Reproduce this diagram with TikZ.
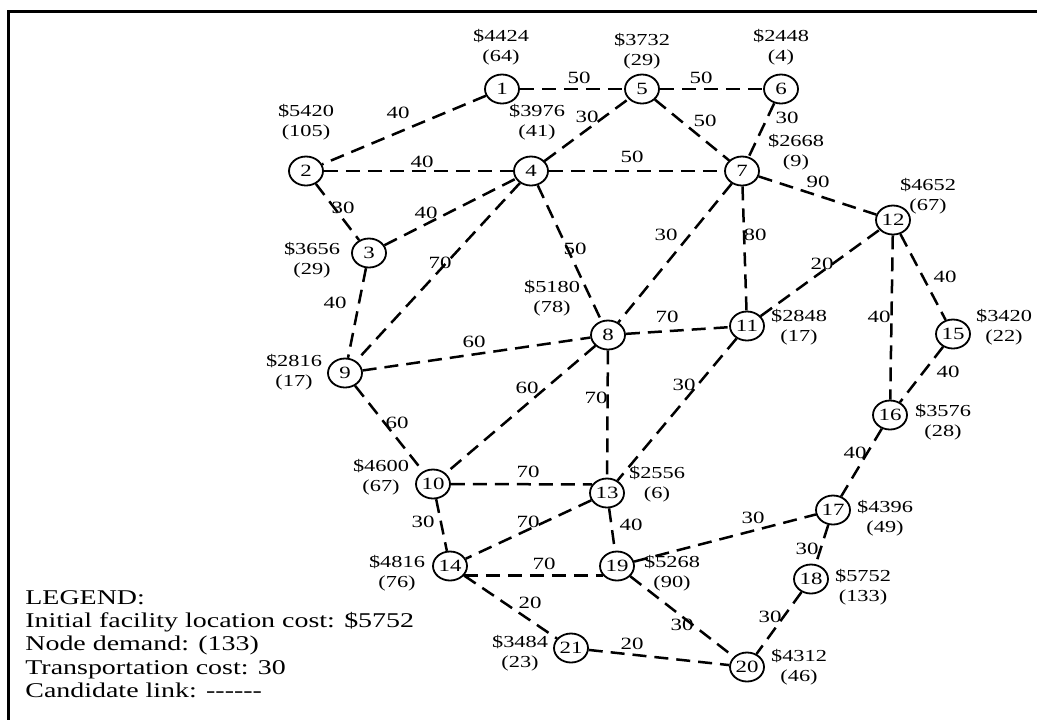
\documentclass[tikz,border=0pt]{standalone}
\usepackage{fontspec}
\setmainfont{Liberation Serif}[FakeStretch=1.33]
\usetikzlibrary{shapes.geometric}
\begin{document}
\begin{tikzpicture}[x=0.5pt,y=-0.5pt,
  vtx/.style={ellipse,draw,line width=0.9pt,minimum width=17pt,minimum height=14.5pt,inner sep=0pt,font=\fontsize{8.6}{9}\selectfont},
  info/.style={align=center,font=\fontsize{8.4}{10}\selectfont,inner sep=0pt},
  wt/.style={font=\fontsize{8.6}{10}\selectfont,inner sep=0pt},
  link/.style={line width=1.25pt,dash pattern=on 7pt off 4pt},
  frame/.style={line width=1.5pt}]
\useasboundingbox (0,0) rectangle (1037,720);
\coordinate (ftr) at (1037,11);
\coordinate (ftl) at (8,11);
\coordinate (fbl) at (8,720);
\draw[frame] (ftr) -- (ftl) -- (fbl);

% vertices
\node[vtx] (n1) at (502,89) {1};
\node[vtx] (n5) at (642,89) {5};
\node[vtx] (n6) at (781,89) {6};
\node[vtx] (n2) at (306,171) {2};
\node[vtx] (n4) at (531,171) {4};
\node[vtx] (n7) at (742,171) {7};
\node[vtx] (n12) at (893,220) {12};
\node[vtx] (n3) at (369,253) {3};
\node[vtx] (n8) at (608,335) {8};
\node[vtx] (n11) at (747,326) {11};
\node[vtx] (n15) at (953,334) {15};
\node[vtx] (n9) at (345,373) {9};
\node[vtx] (n16) at (890,415) {16};
\node[vtx] (n10) at (433,484) {10};
\node[vtx] (n13) at (607,493) {13};
\node[vtx] (n17) at (833,510) {17};
\node[vtx] (n14) at (450,566) {14};
\node[vtx] (n19) at (617,566) {19};
\node[vtx] (n18) at (811,579) {18};
\node[vtx] (n21) at (571,648) {21};
\node[vtx] (n20) at (747,667) {20};

% cost / demand labels
\node[info] (c1) at (501,47) {\$4424\\(64)};
\node[info] (c5) at (642,51) {\$3732\\(29)};
\node[info] (c6) at (781,47) {\$2448\\(4)};
\node[info] (c2) at (306,122) {\$5420\\(105)};
\node[info] (c4) at (537,122) {\$3976\\(41)};
\node[info] (c7) at (796,152) {\$2668\\(9)};
\node[info] (c12) at (928,196) {\$4652\\(67)};
\node[info] (c3) at (312,260) {\$3656\\(29)};
\node[info] (c8) at (552,298) {\$5180\\(78)};
\node[info] (c11) at (799,327) {\$2848\\(17)};
\node[info] (c15) at (1004,327) {\$3420\\(22)};
\node[info] (c9) at (294,372) {\$2816\\(17)};
\node[info] (c16) at (943,422) {\$3576\\(28)};
\node[info] (c10) at (381,477) {\$4600\\(67)};
\node[info] (c13) at (657,484) {\$2556\\(6)};
\node[info] (c17) at (885,518) {\$4396\\(49)};
\node[info] (c18) at (863,587) {\$5752\\(133)};
\node[info] (c14) at (397,573) {\$4816\\(76)};
\node[info] (c19) at (672,573) {\$5268\\(90)};
\node[info] (c21) at (520,653) {\$3484\\(23)};
\node[info] (c20) at (799,667) {\$4312\\(46)};

% links
\draw[link] (n1) -- (n2);
\draw[link] (n1) -- (n5);
\draw[link] (n5) -- (n6);
\draw[link] (n2) -- (n4);
\draw[link] (n4) -- (n5);
\draw[link] (n5) -- (n7);
\draw[link] (n6) -- (n7);
\draw[link] (n4) -- (n7);
\draw[link] (n7) -- (n12);
\draw[link] (n2) -- (n3);
\draw[link] (n3) -- (n4);
\draw[link] (n4) -- (n9);
\draw[link] (n4) -- (n8);
\draw[link] (n7) -- (n8);
\draw[link] (n7) -- (n11);
\draw[link] (n11) -- (n12);
\draw[link] (n12) -- (n16);
\draw[link] (n12) -- (n15);
\draw[link] (n15) -- (n16);
\draw[link] (n3) -- (n9);
\draw[link] (n9) -- (n8);
\draw[link] (n8) -- (n11);
\draw[link] (n8) -- (n10);
\draw[link] (n8) -- (n13);
\draw[link] (n11) -- (n13);
\draw[link] (n9) -- (n10);
\draw[link] (n16) -- (n17);
\draw[link] (n10.east) -- (n13.150);
\draw[link] (n10) -- (n14);
\draw[link] (n13) -- (n14);
\draw[link] (n13) -- (n19);
\draw[link] (n19) -- (n17);
\draw[link] (n17) -- (n18);
\draw[link] (n14.-35) -- (n19.215);
\draw[link] (n14) -- (n21);
\draw[link] (n19) -- (n20);
\draw[link] (n18) -- (n20);
\draw[link] (n21) -- (n20);

% transportation costs
\node[wt] at (398,113) {40};
\node[wt] at (579,78) {50};
\node[wt] at (701,78) {50};
\node[wt] at (422,162) {40};
\node[wt] at (587,117) {30};
\node[wt] at (705,121) {50};
\node[wt] at (787,118) {30};
\node[wt] at (632,157) {50};
\node[wt] at (818,182) {90};
\node[wt] at (343,208) {30};
\node[wt] at (426,213) {40};
\node[wt] at (440,263) {70};
\node[wt] at (575,249) {50};
\node[wt] at (666,235) {30};
\node[wt] at (755,235) {80};
\node[wt] at (822,264) {20};
\node[wt] at (879,317) {40};
\node[wt] at (945,277) {40};
\node[wt] at (948,372) {40};
\node[wt] at (335,303) {40};
\node[wt] at (474,342) {60};
\node[wt] at (667,317) {70};
\node[wt] at (527,388) {60};
\node[wt] at (596,398) {70};
\node[wt] at (684,385) {30};
\node[wt] at (397,423) {60};
\node[wt] at (855,453) {40};
\node[wt] at (528,472) {70};
\node[wt] at (423,522) {30};
\node[wt] at (528,522) {70};
\node[wt] at (631,525) {40};
\node[wt] at (753,518) {30};
\node[wt] at (807,549) {30};
\node[wt] at (544,564) {70};
\node[wt] at (530,603) {20};
\node[wt] at (682,625) {30};
\node[wt] at (770,617) {30};
\node[wt] at (632,644) {20};

% legend
\node[anchor=west,align=left,font=\fontsize{10.5}{11.7}\selectfont,inner sep=0pt] (legend) at (25,644)
  {LEGEND:\\Initial facility location cost: \$5752\\Node demand: (133)\\Transportation cost: 30\\Candidate link: {-}{-}{-}{-}{-}{-}};
\end{tikzpicture}
\end{document}
